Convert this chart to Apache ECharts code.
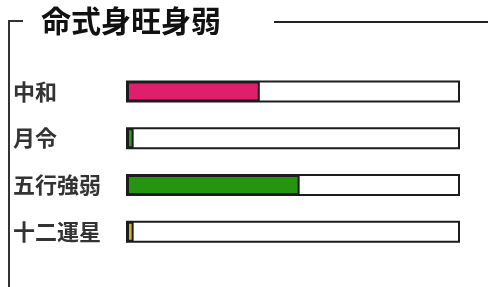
<!DOCTYPE html>
<html>
<head>
<meta charset="utf-8">
<script src="https://cdn.jsdelivr.net/npm/echarts@6/dist/echarts.min.js"></script>
<style>
    html, body { margin: 0; padding: 0; background: #fff; }
    #chart { width: 488px; height: 287px; }
</style>
</head>
<body>
<div id="chart"></div>
<script>
// 分類と値（0〜100）
var categories = ['中和', '月令', '五行強弱', '十二運星'];
var values = [40, 2, 52, 2];
var barColors = ['#df1f6c', '#2f9a1c', '#25950f', '#c9b624'];
var axisMax = 100;

function initChart(id) {
    var container = echarts.init(document.getElementById(id));
    var option = {
        backgroundColor: '#ffffff',
        animation: false,
        grid: {
            left: 127,
            right: 29,
            top: 68,
            height: 187
        },
        xAxis: {
            type: 'value',
            min: 0,
            max: axisMax,
            show: false
        },
        yAxis: {
            type: 'category',
            inverse: true,
            data: categories,
            axisLine: { show: false },
            axisTick: { show: false },
            axisLabel: {
                align: 'left',
                margin: 114,
                color: '#333',
                fontSize: 22,
                fontWeight: 'bold',
                fontFamily: 'Noto Sans CJK JP'
            }
        },
        series: [
            {
                type: 'bar',
                barWidth: 20,
                data: values.map(function (v, i) {
                    return { value: v, itemStyle: { color: barColors[i] } };
                }),
                showBackground: true,
                backgroundStyle: {
                    color: '#ffffff',
                    borderColor: '#1c1c1c',
                    borderWidth: 2
                },
                itemStyle: {
                    borderColor: '#1c1c1c',
                    borderWidth: 2
                }
            }
        ],
        graphic: [
            {
                type: 'polyline',
                shape: { points: [[23, 21], [9, 21], [9, 287]] },
                style: { stroke: '#333', lineWidth: 2, fill: null }
            },
            {
                type: 'line',
                shape: { x1: 274, y1: 22, x2: 488, y2: 22 },
                style: { stroke: '#222', lineWidth: 2 }
            },
            {
                type: 'text',
                left: 41,
                top: 6,
                style: {
                    text: '命式身旺身弱',
                    fontSize: 30,
                    fontWeight: 'bold',
                    fontFamily: 'Noto Sans CJK JP',
                    fill: '#111'
                }
            }
        ]
    };
    container.setOption(option);
}

initChart('chart');
</script>
</body>
</html>
